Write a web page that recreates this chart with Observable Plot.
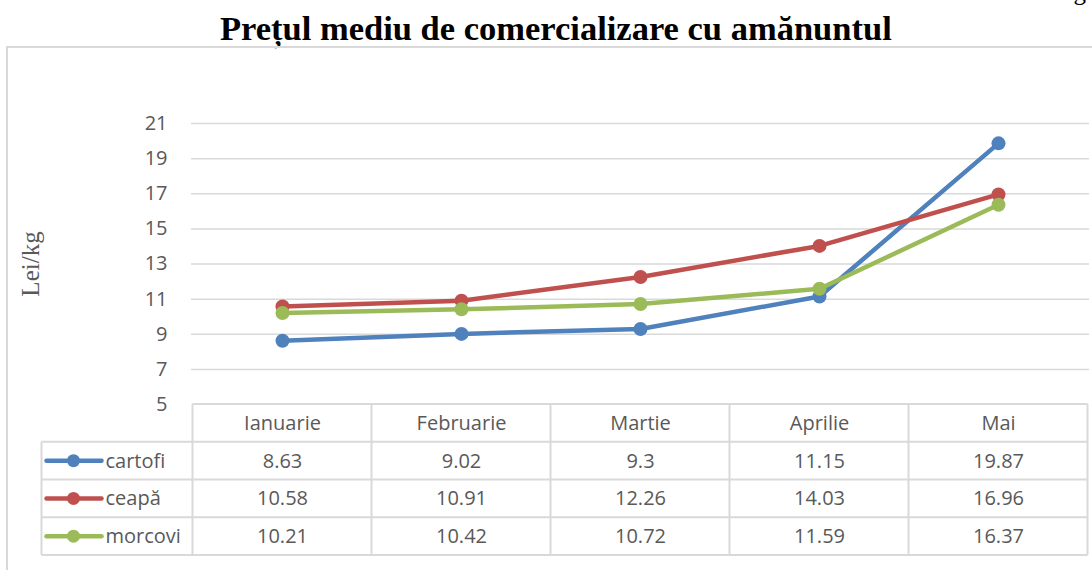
<!DOCTYPE html>
<html>
<head>
<meta charset="utf-8">
<script src="https://cdn.jsdelivr.net/npm/d3@7"></script>
<script src="https://cdn.jsdelivr.net/npm/@observablehq/plot@0.6"></script>
<style>
  body { margin: 0; background: #fff; }
  #wrap { position: relative; width: 1092px; height: 570px; overflow: hidden; background: #fff; }
  #kg { position: absolute; left: 1040px; width: 46px; text-align: right; top: -21px; font: 25px "Liberation Serif", serif; line-height: 25px; color: #000; }
  #title { position: absolute; left: 220px; top: 11px; white-space: nowrap; font: bold 34.5px "Liberation Serif", serif; line-height: 34.5px; color: #000; }
  #box { position: absolute; left: 6px; top: 46px; width: 1200px; height: 700px; border: 2px solid #d9d9d9; }
  #chart { position: absolute; left: 0; top: 47px; }
</style>
</head>
<body>
<div id="wrap">
  <div id="kg">kg</div>
  <div id="title">Prețul mediu de comercializare cu amănuntul</div>
  <div id="box"></div>
  <div id="chart"></div>
</div>
<script>
const months = ["Ianuarie", "Februarie", "Martie", "Aprilie", "Mai"];
const seriesNames = ["cartofi", "ceapă", "morcovi"];
const cartofi = [8.63, 9.02, 9.3, 11.15, 19.87];
const ceapa = [10.58, 10.91, 12.26, 14.03, 16.96];
const morcovi = [10.21, 10.42, 10.72, 11.59, 16.37];
const seriesColors = ["#4f81bd", "#c0504d", "#9bbb59"];
const yTicks = [5, 7, 9, 11, 13, 15, 17, 19, 21];
const yLabel = "Lei/kg";

const seriesValues = [cartofi, ceapa, morcovi];
const data = seriesNames.flatMap((s, i) => months.map((m, j) => ({series: s, month: m, value: seriesValues[i][j]})));

const sans = "'Open Sans', sans-serif";
const grey = "#595959";
const gridColor = "#d9d9d9";
const rows = seriesNames.length + 1;
const rowH = 37.75;

// table lines and legend swatches, positioned from the scales
function tableMark(index, scales, values, dims) {
  const x = scales.x, y = scales.y;
  const xs = months.map(m => x(m));
  const step = xs[1] - xs[0];
  const left = xs[0] - step / 2;
  const right = xs[xs.length - 1] + step / 2;
  const top = y(yTicks[0]);
  const legendLeft = left - 151;
  const g = d3.create("svg:g");
  const line = (x1, y1, x2, y2) => g.append("line").attr("x1", x1).attr("y1", y1).attr("x2", x2).attr("y2", y2)
    .attr("stroke", gridColor).attr("stroke-width", 2);
  line(left, top, right, top);
  for (let k = 1; k <= rows; k++) line(legendLeft, top + rowH * k, right, top + rowH * k);
  line(legendLeft, top + rowH, legendLeft, top + rowH * rows);
  for (let j = 0; j <= months.length; j++) line(left + step * j, top, left + step * j, top + rowH * rows);
  seriesNames.forEach((s, i) => {
    const cy = top + rowH * (i + 1.5);
    g.append("line").attr("x1", legendLeft + 5).attr("x2", legendLeft + 60).attr("y1", cy).attr("y2", cy)
      .attr("stroke", seriesColors[i]).attr("stroke-width", 4.5).attr("stroke-linecap", "round");
    g.append("circle").attr("cx", legendLeft + 32).attr("cy", cy).attr("r", 6.5).attr("fill", seriesColors[i]);
  });
  return g.node();
}

const seriesMarks = seriesNames.flatMap((s, i) => {
  const d = data.filter(r => r.series === s);
  return [
    Plot.line(d, {x: "month", y: "value", stroke: seriesColors[i], strokeWidth: 4.5, strokeLinejoin: "round", strokeLinecap: "round"}),
    Plot.dot(d, {x: "month", y: "value", fill: seriesColors[i], r: 7})
  ];
});

const textStyle = {fontSize: 20, fontFamily: sans, fill: grey, lineAnchor: "middle"};

const tableTexts = seriesNames.flatMap((s, i) => {
  const d = data.filter(r => r.series === s);
  const dy = rowH * (i + 1.5);
  return [
    Plot.text(d, {x: "month", text: r => String(r.value), frameAnchor: "bottom", dy, ...textStyle}),
    Plot.text([s], {frameAnchor: "bottom-left", dx: -86, dy, textAnchor: "start", ...textStyle})
  ];
});

const chart = Plot.plot({
  width: 1092,
  height: 523,
  marginLeft: 191,
  marginRight: 3,
  marginTop: 76,
  marginBottom: 166,
  style: {background: "transparent", fontFamily: sans, overflow: "visible"},
  x: {type: "point", domain: months, padding: 0.5, axis: null},
  y: {domain: [yTicks[0], yTicks[yTicks.length - 1]], axis: null},
  marks: [
    Plot.gridY(yTicks.slice(1), {stroke: gridColor, strokeOpacity: 1, strokeWidth: 1.5}),
    Plot.axisY(yTicks, {tickSize: 0, tickPadding: 24, fontSize: 20, fontFamily: sans, fill: grey, label: null}),
    Plot.text([yLabel], {frameAnchor: "left", dx: -161, rotate: -90, textAnchor: "middle", lineAnchor: "middle", fontSize: 25, fontFamily: "'Liberation Serif', serif", fill: grey}),
    tableMark,
    ...seriesMarks,
    Plot.text(months, {x: d => d, frameAnchor: "bottom", dy: rowH * 0.5, ...textStyle}),
    ...tableTexts
  ]
});
document.getElementById("chart").appendChild(chart);
</script>
</body>
</html>
